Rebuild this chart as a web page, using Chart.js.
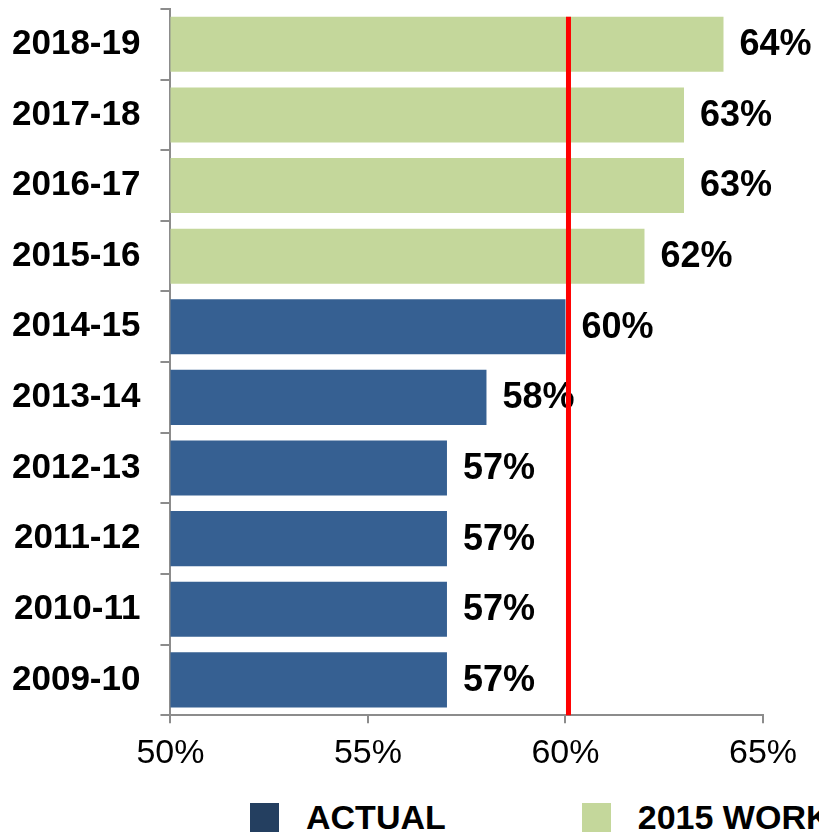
<!DOCTYPE html>
<html lang="en">
<head>
  <meta charset="UTF-8" />
  <title>Actual vs 2015 Workforce Plan</title>
  <script src="https://cdn.jsdelivr.net/npm/chart.js"></script>
  <style>
    html, body { margin: 0; padding: 0; background: #fff; overflow: hidden; }
    #wrap { position: relative; width: 819px; height: 835px; }
    #chart { position: absolute; left: 0; top: 0; }
    #legend {
      position: absolute; left: 250px; top: 799px; width: 569px; height: 36px;
      display: flex; white-space: nowrap; overflow: hidden;
      font: bold 34px "Liberation Sans", Arial, sans-serif; line-height: 34px; color: #000;
    }
    #legend .item { display: flex; align-items: center; margin-right: 136px; }
    #legend .swatch { width: 29px; height: 29px; margin-right: 27px; flex: none; }
  </style>
</head>
<body>
  <div id="wrap">
    <canvas id="chart" width="819" height="790"></canvas>
    <div id="legend"></div>
  </div>

  <script>
    // years, top to bottom as in the picture
    const years = ['2018-19', '2017-18', '2016-17', '2015-16', '2014-15',
                   '2013-14', '2012-13', '2011-12', '2010-11', '2009-10'];
    const actual = [null, null, null, null, 60, 58, 57, 57, 57, 57];
    const plan   = [64, 63, 63, 62, null, null, null, null, null, null];
    const xTicks = [50, 55, 60, 65];
    const target = 60;

    const BLUE = '#366092';
    const GREEN = '#c4d79b';
    const AXIS = '#8c8c8c';
    const FONT = '"Liberation Sans", Arial, sans-serif';

    // value labels at the end of each bar
    const valueLabels = {
      id: 'valueLabels',
      afterDatasetsDraw(chart) {
        const ctx = chart.ctx;
        ctx.save();
        ctx.font = 'bold 36px ' + FONT;
        ctx.fillStyle = '#000';
        ctx.textAlign = 'left';
        ctx.textBaseline = 'middle';
        chart.data.datasets.forEach((ds, i) => {
          chart.getDatasetMeta(i).data.forEach((bar, j) => {
            const v = ds.data[j];
            if (v == null) return;
            ctx.fillText(v + '%', bar.x + 16, bar.y + 1);
          });
        });
        ctx.restore();
      }
    };

    // red target line
    const targetLine = {
      id: 'targetLine',
      afterDraw(chart) {
        const ctx = chart.ctx;
        const x = chart.scales.x.getPixelForValue(target) + 3;
        const topBar = chart.getDatasetMeta(1).data[0];
        ctx.save();
        ctx.strokeStyle = '#ff0000';
        ctx.lineWidth = 5;
        ctx.beginPath();
        ctx.moveTo(x, topBar.y - topBar.height / 2);
        ctx.lineTo(x, chart.chartArea.bottom);
        ctx.stroke();
        ctx.restore();
      }
    };

    const chart = new Chart(document.getElementById('chart'), {
      type: 'bar',
      data: {
        labels: years,
        datasets: [
          { label: 'ACTUAL', data: actual, backgroundColor: BLUE, legendColor: '#243f60' },
          { label: '2015 WORKFORCE PLAN', data: plan, backgroundColor: GREEN, legendColor: GREEN }
        ]
      },
      options: {
        indexAxis: 'y',
        responsive: false,
        devicePixelRatio: 1,
        animation: false,
        barPercentage: 0.78,
        categoryPercentage: 1,
        layout: { padding: { left: -8, top: 9, right: 56, bottom: 6 } },
        plugins: {
          legend: { display: false },
          tooltip: { enabled: false }
        },
        scales: {
          x: {
            min: 50,
            max: 65,
            afterBuildTicks: axis => { axis.ticks = xTicks.map(v => ({ value: v })); },
            grid: { drawOnChartArea: false, drawTicks: true, tickLength: 8, color: AXIS, lineWidth: 2 },
            border: { color: AXIS, width: 2 },
            ticks: {
              padding: 10,
              color: '#000',
              font: { family: FONT, size: 34 },
              callback: v => v + '%'
            }
          },
          y: {
            stacked: true,
            afterFit: scale => { scale.paddingTop = 0; scale.paddingBottom = 0; },
            grid: { drawOnChartArea: false, drawTicks: true, tickLength: 10, color: AXIS, lineWidth: 2, offset: true },
            border: { color: AXIS, width: 2 },
            ticks: {
              padding: 20,
              color: '#000',
              font: { family: FONT, size: 35, weight: 'bold' }
            }
          }
        }
      },
      plugins: [valueLabels, targetLine]
    });

    // legend built from the datasets
    const legend = document.getElementById('legend');
    chart.data.datasets.forEach(ds => {
      const item = document.createElement('div');
      item.className = 'item';
      const sw = document.createElement('span');
      sw.className = 'swatch';
      sw.style.background = ds.legendColor;
      const txt = document.createElement('span');
      txt.textContent = ds.label;
      item.appendChild(sw);
      item.appendChild(txt);
      legend.appendChild(item);
    });
  </script>
</body>
</html>
